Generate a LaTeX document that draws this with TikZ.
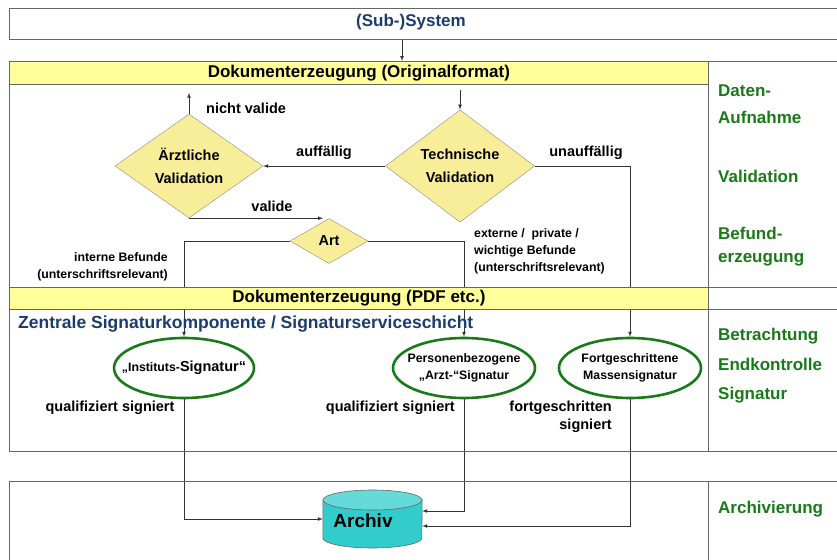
\documentclass[tikz,border=0pt]{standalone}
\usepackage{fontspec}
\setmainfont{Liberation Sans}
\usetikzlibrary{shapes.geometric, backgrounds, arrows.meta}
\definecolor{hdryellow}{HTML}{FFFF99}
\definecolor{dmdyellow}{HTML}{F8EE99}
\definecolor{sysblue}{HTML}{1A3C6E}
\definecolor{stagegreen}{HTML}{197A19}
\definecolor{archteal}{HTML}{33CCCC}
\definecolor{archtop}{HTML}{66D9D9}
\tikzset{>=latex}
\newcommand{\setfs}[2]{\fontsize{#1}{#2}\selectfont\bfseries}

\begin{document}
\begin{tikzpicture}[x=1pt, y=-1pt,
  frame/.style={draw=black!60, line width=0.8pt},
  header/.style={frame, fill=hdryellow, minimum width=699pt, minimum height=23pt, inner sep=0pt, anchor=north west, font=\setfs{17}{20}},
  check/.style={diamond, draw=black!45, fill=dmdyellow, inner sep=0pt, align=center, font=\setfs{14.5}{23}},
  sig/.style={ellipse, draw=stagegreen, line width=2.6pt, inner xsep=-14pt, inner ysep=0pt, minimum width=140pt, minimum height=60pt, align=center, font=\setfs{12.3}{17}},
  conn/.style={->, draw=black!80, line width=0.7pt},
  lbl/.style={inner sep=0pt, font=\setfs{14.5}{18}},
  note/.style={inner sep=0pt, font=\setfs{12.3}{17}},
  stage/.style={anchor=west, inner sep=0pt, align=left, text=stagegreen, font=\setfs{17}{27}},
  drum/.style={draw=black!60, line width=0.6pt}
]
\useasboundingbox (0,0) rectangle (837,559);
\clip (0,0) rectangle (837,559);

% frames of the three blocks
\draw[frame] (845,8) -| (9,39) -- (845,39);
\draw[frame] (845,61) -- (9,61) -- (9,451) -- (845,451);
\draw[frame] (708,61) -- (708,451);
\draw[frame] (9,287) -- (845,287) (9,309) -- (845,309);
\draw[frame] (9,600) -- (9,481) -- (845,481) (708,481) -- (708,600);

\node[font=\setfs{17}{20}, text=sysblue] (subsys) at (411,22) {(Sub-)System};
\coordinate (sysout) at (402,39);

\node[header] (hdrorig) at (9,61) {Dokumenterzeugung (Originalformat)};
\node[header, minimum height=22pt] (hdrpdf) at (9,287) {Dokumenterzeugung (PDF etc.)};

% validation
\node[check, minimum width=148pt, minimum height=104pt] (aerztval) at (189,166) {Ärztliche\\Validation};
\node[check, minimum width=149pt, minimum height=105pt] (techval) at (460,166) {Technische\\Validation};
\node[check, minimum width=78pt, minimum height=45pt] (art) at (329,241) {Art};

% signatures
\node[font=\setfs{17.5}{20}, text=sysblue, anchor=west, inner sep=0pt] (schicht) at (18,324) {Zentrale Signaturkomponente / Signaturserviceschicht};
\node[sig] (instsig) at (184,368) {„Instituts-{\fontsize{14.5}{17}\selectfont Signatur“}};
\node[sig, minimum width=142pt] (persig) at (464,368) {Personenbezogene\\„Arzt-“Signatur};
\node[sig, minimum width=142pt] (fortsig) at (630,368) {Fortgeschrittene\\Massensignatur};

% archive drum
\node[inner sep=0pt, minimum width=99pt, minimum height=58pt] (archiv) at (372.5,519) {};
\draw[drum, fill=archteal] (archiv.west |- 0,500) -- (archiv.west |- 0,538)
  arc[start angle=180, end angle=0, x radius=49.5, y radius=10]
  -- (archiv.east |- 0,500) -- cycle;
\draw[drum, fill=archtop] (archiv.north |- 0,500) ellipse[x radius=49.5, y radius=10];
\node[inner sep=0pt, font=\setfs{19}{20}] (archivlbl) at (363,521) {Archiv};

% edge labels
\node[lbl, anchor=west] (nichtlbl) at (206,108) {nicht valide};
\node[lbl] (auflbl) at (324,153) {auffällig};
\node[lbl] (validelbl) at (272,206) {valide};
\node[lbl] (unauflbl) at (586,153) {unauffällig};
\node[note, anchor=east, align=right] (internlbl) at (168,266.5) {interne Befunde\\(unterschriftsrelevant)};
\node[note, anchor=west, align=left] (externlbl) at (474,251) {externe /\ \ private /\\wichtige Befunde\\(unterschriftsrelevant)};
\node[lbl] (qualinst) at (110,408) {qualifiziert signiert};
\node[lbl, anchor=east] (qualpers) at (455,408) {qualifiziert signiert};
\node[lbl, anchor=east, align=right] (fortlbl) at (612,417) {fortgeschritten\\signiert};

% stages
\node[stage] (datenlbl) at (718,104) {Daten-\\Aufnahme};
\node[stage] (vallbl) at (718,176) {Validation};
\node[stage, font=\setfs{17}{23}] (befundlbl) at (718,246.5) {Befund-\\erzeugung};
\node[stage, font=\setfs{17}{29.5}] (betrlbl) at (718,366) {Betrachtung\\Endkontrolle\\Signatur};
\node[stage] (archlbl) at (718,509) {Archivierung};

\begin{scope}[on background layer]
\draw[conn] (sysout) -- (sysout |- hdrorig.north);
\draw[conn] (techval.north |- 0,90) -- (techval.north);
\draw[conn] (aerztval.north) -- ++(0,-21);
\draw[conn] (techval.west) -- (aerztval.east);
\draw[conn, shorten >=6pt] (aerztval.south) -- (aerztval.south -| art.north);
\draw[conn] (art.west) -| (instsig.north);
\draw[conn] (art.east) -| (persig.north);
\draw[conn] (techval.east) -| (fortsig.north);
\draw[conn] (instsig.south) |- (archiv.west);
\draw[conn] (persig.south) |- ([yshift=8pt]archiv.east);
\draw[conn] (fortsig.south) |- ([yshift=-7pt]archiv.east);
\end{scope}
\end{tikzpicture}
\end{document}
